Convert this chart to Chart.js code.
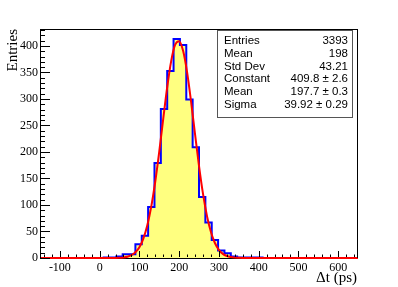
<!DOCTYPE html>
<html>
<head>
<meta charset="UTF-8">
<title>Delta t</title>
<script src="https://cdn.jsdelivr.net/npm/chart.js"></script>
<style>
    body { margin: 0; background: #fff; }
    canvas { display: block; }
</style>
</head>
<body>
<canvas id="dtChart" width="398" height="287"></canvas>
<script>
    // histogram: 50 bins of 16 ps from -150 to 650
    const binLow = -150;
    const binWidth = 16;
    const counts = [
        0, 0, 0, 0, 0, 0, 0, 0, 0, 0,
        1, 1, 3, 7, 7, 26, 42, 96, 179, 281,
        353, 413, 402, 299, 209, 115, 67, 34, 14, 9,
        3, 1, 1, 1, 1, 0, 0, 0, 0, 0,
        0, 0, 0, 0, 0, 0, 0, 0, 0, 0
    ];

    // gaus fit curve
    const fitX = [-150, 40, 50, 60, 70, 80, 90, 100, 110, 120, 130, 140, 150, 160, 170, 180, 190, 200,
                  210, 220, 230, 240, 250, 260, 270, 280, 290, 300, 310, 320, 330, 340, 350, 360, 650];
    const fitY = [0, 0.2, 0.5, 1.1, 2.5, 5.3, 10.8, 20.5, 36.7, 61.7, 97.3, 144.3, 200.7, 262.4, 322.1, 371.4, 402.3, 409.1,
                  390.8, 350.6, 295.4, 233.8, 173.8, 121.3, 79.5, 48.9, 28.3, 15.4, 7.8, 3.8, 1.7, 0.7, 0.3, 0.1, 0];

    const xTicks = [-100, 0, 100, 200, 300, 400, 500, 600];
    const yTicks = [0, 50, 100, 150, 200, 250, 300, 350, 400];

    const statNames = ["Entries", "Mean", "Std Dev", "Constant", "Mean", "Sigma"];
    const statValues = ["3393", "198", "43.21", "409.8 \u00b1 2.6", "197.7 \u00b1 0.3", "39.92 \u00b1 0.29"];

    // one point per bin low edge, plus the last high edge
    const histPoints = counts.map((c, i) => ({ x: binLow + i * binWidth, y: c }));
    histPoints.push({ x: binLow + counts.length * binWidth, y: counts[counts.length - 1] });
    const fitPoints = fitX.map((x, i) => ({ x: x, y: fitY[i] }));

    // frame, inward ticks, titles and stats box, ROOT style
    const rootStyle = {
        id: "rootStyle",
        beforeDatasetsDraw(chart) {
            const ctx = chart.ctx;
            const a = chart.chartArea;
            ctx.save();
            ctx.strokeStyle = "#000";
            ctx.lineWidth = 1;
            ctx.strokeRect(a.left + 0.5, a.top + 0.5, a.right - a.left - 1, a.bottom - a.top);
            ctx.restore();
        },
        afterDatasetsDraw(chart) {
            const ctx = chart.ctx;
            const a = chart.chartArea;
            const xs = chart.scales.x, ys = chart.scales.y;
            ctx.save();
            ctx.strokeStyle = "#000";
            ctx.lineWidth = 1;
            ctx.beginPath();
            ctx.moveTo(a.left + 0.5, a.top);
            ctx.lineTo(a.left + 0.5, a.bottom);
            ctx.moveTo(a.right - 0.5, a.top);
            ctx.lineTo(a.right - 0.5, a.bottom);
            for (let v = -140; v <= 650; v += 20) {
                const px = Math.round(xs.getPixelForValue(v)) + 0.5;
                const len = v % 100 === 0 ? 7 : 3.5;
                ctx.moveTo(px, a.bottom - 1);
                ctx.lineTo(px, a.bottom - len);
            }
            for (let v = 0; v <= 430; v += 10) {
                const py = Math.round(ys.getPixelForValue(v)) + 0.5;
                const len = v % 50 === 0 ? 10 : 5;
                ctx.moveTo(a.left, py);
                ctx.lineTo(a.left + len, py);
            }
            ctx.stroke();

            ctx.fillStyle = "#000";
            ctx.font = "15px 'Liberation Serif'";
            ctx.textAlign = "right";
            ctx.textBaseline = "alphabetic";
            ctx.fillText("\u0394t (ps)", 357, 282);

            ctx.save();
            ctx.translate(17, 29);
            ctx.rotate(-Math.PI / 2);
            ctx.fillText("Entries", 0, 0);
            ctx.restore();

            // stats box
            ctx.fillStyle = "#fff";
            ctx.fillRect(217, 30, 135, 88);
            ctx.strokeStyle = "#555";
            ctx.strokeRect(217.5, 30.5, 135, 87);
            ctx.fillStyle = "#000";
            ctx.font = "11.5px 'Liberation Sans'";
            ctx.textBaseline = "middle";
            statNames.forEach((name, i) => {
                const y = 41 + i * 12.7;
                ctx.textAlign = "left";
                ctx.fillText(name, 224, y);
                ctx.textAlign = "right";
                ctx.fillText(statValues[i], 348, y);
            });
            ctx.restore();
        }
    };

    new Chart(document.getElementById("dtChart"), {
        type: "scatter",
        data: {
            datasets: [
                {
                    data: fitPoints,
                    showLine: true,
                    borderColor: "#ff0000",
                    borderWidth: 2,
                    pointRadius: 0,
                    cubicInterpolationMode: "monotone",
                    clip: 2,
                    order: 0
                },
                {
                    data: histPoints,
                    showLine: true,
                    stepped: "before",
                    borderColor: "#0000ff",
                    borderWidth: 2,
                    backgroundColor: "#ffff80",
                    fill: "origin",
                    pointRadius: 0,
                    order: 1
                }
            ]
        },
        options: {
            responsive: false,
            animation: false,
            devicePixelRatio: 1,
            layout: { padding: { left: 0, top: 29, right: 40, bottom: 0 } },
            plugins: {
                legend: { display: false },
                tooltip: { enabled: false }
            },
            scales: {
                x: {
                    type: "linear",
                    min: -150,
                    max: 650,
                    afterFit: s => { s.height = 29; },
                    afterBuildTicks: s => { s.ticks = xTicks.map(v => ({ value: v })); },
                    grid: { display: false, drawTicks: false },
                    border: { display: false },
                    ticks: {
                        padding: 3,
                        maxRotation: 0,
                        autoSkip: false,
                        color: "#000",
                        font: { family: "'Liberation Serif'", size: 12 }
                    }
                },
                y: {
                    min: 0,
                    max: 432,
                    afterFit: s => { s.width = 40; },
                    afterBuildTicks: s => { s.ticks = yTicks.map(v => ({ value: v })); },
                    grid: { display: false, drawTicks: false },
                    border: { display: false },
                    ticks: {
                        padding: 2,
                        autoSkip: false,
                        color: "#000",
                        font: { family: "'Liberation Serif'", size: 12 }
                    }
                }
            }
        },
        plugins: [rootStyle]
    });
</script>
</body>
</html>
